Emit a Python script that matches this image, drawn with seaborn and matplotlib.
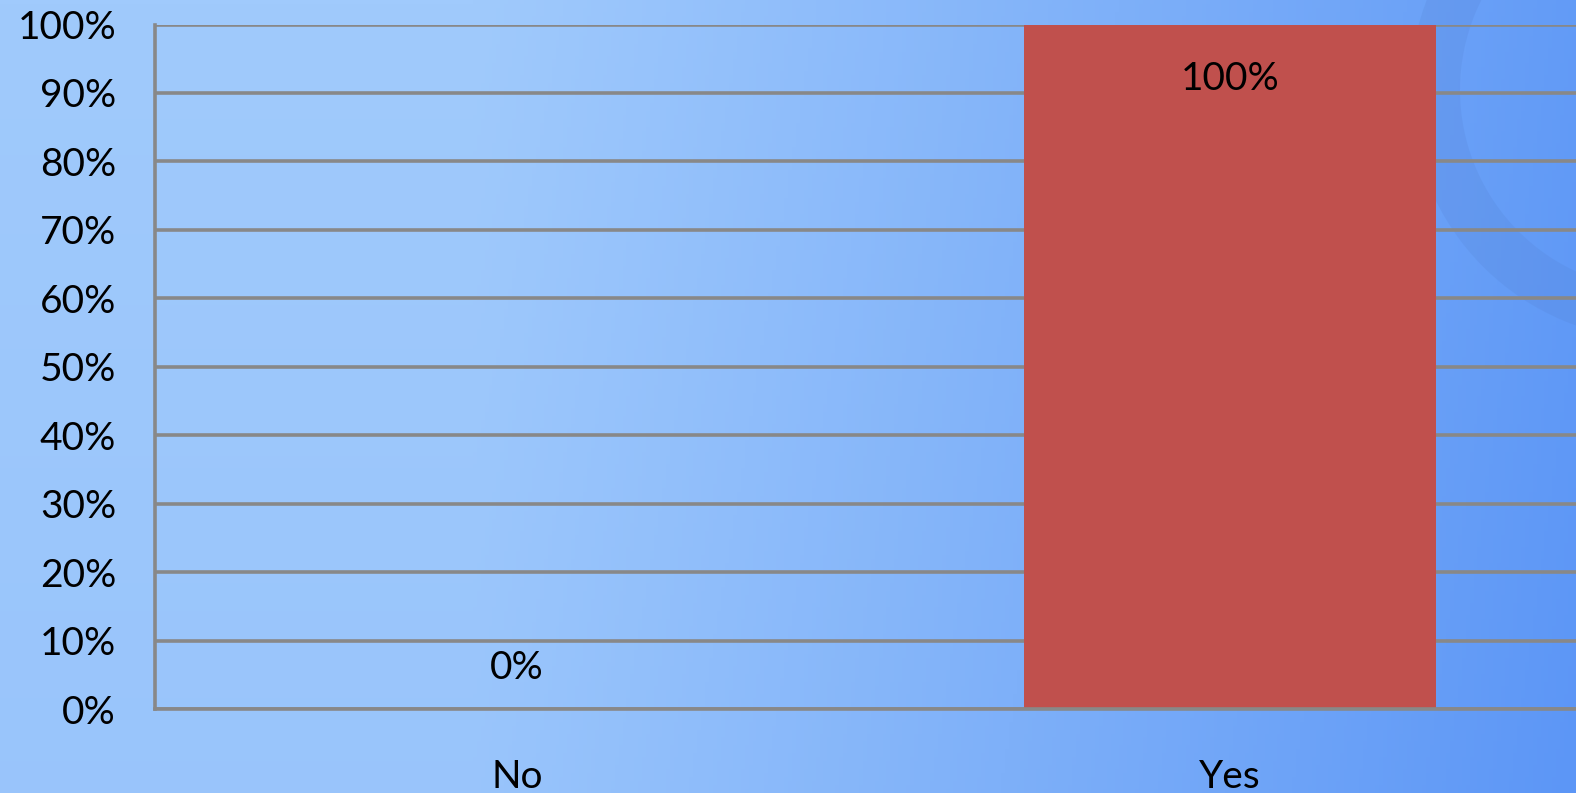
import numpy as np
import pandas as pd
import matplotlib
matplotlib.use("Agg")
import matplotlib.pyplot as plt
from matplotlib.patches import Wedge
import seaborn as sns

categories = ["No", "Yes"]
values = [0.0, 1.0]
value_labels = ["0%", "100%"]
yticks = [0, 0.1, 0.2, 0.3, 0.4, 0.5, 0.6, 0.7, 0.8, 0.9, 1.0]
ytick_labels = ["0%", "10%", "20%", "30%", "40%", "50%", "60%", "70%", "80%", "90%", "100%"]

sns.set_theme(style="white")
plt.rcParams['font.family'] = ['Lato', 'DejaVu Sans']

FW, FH = 1576, 793
fig = plt.figure(figsize=(FW / 100, FH / 100), dpi=100)

# background gradient
bg = fig.add_axes([0, 0, 1, 1], zorder=-10)
W, H = 400, 200
xs = np.linspace(0, 1, W)
ys = np.linspace(0, 1, H)
X, Y = np.meshgrid(xs, ys)
left = np.array([160, 202, 252]) / 255
right = np.array([92, 150, 246]) / 255
t = np.clip((X - 0.3) / 0.7, 0, 1) ** 1.1 * 0.9 + Y * 0.1
t = np.clip(t, 0, 1)
img = left[None, None, :] * (1 - t[..., None]) + right[None, None, :] * t[..., None]
bg.imshow(img, extent=[0, FW, 0, FH], aspect='auto', origin='upper')
# faint ring at the top right
bg.add_patch(Wedge((1660, FH - 90), 250, 0, 360, width=50,
                   facecolor=(0.33, 0.50, 0.82), alpha=0.2, lw=0))
bg.set_xlim(0, FW); bg.set_ylim(0, FH)
bg.axis('off')

ax = fig.add_axes([155 / FW, 1 - 709 / FH, 1 - 155 / FW, (709 - 24.5) / FH])
ax.patch.set_alpha(0)
df = pd.DataFrame({"cat": categories, "val": values})
sns.barplot(data=df, x="cat", y="val", color="#C0504D", width=0.578,
            saturation=1, ax=ax, zorder=3, linewidth=0, edgecolor="none")
ax.set_ylim(0, 1.0)
ax.set_xlim(-0.5077, 1.4853)
ax.set_yticks(yticks)
ax.set_yticklabels(ytick_labels)
ax.yaxis.grid(True, color="#888888", lw=2.6, zorder=1)
ax.set_axisbelow(True)
for s in ["top", "right"]:
    ax.spines[s].set_visible(False)
for s in ["left", "bottom"]:
    ax.spines[s].set_color("#888888")
    ax.spines[s].set_linewidth(2.6)
    ax.spines[s].set_zorder(4)
ax.set_xlabel("")
ax.set_ylabel("")
ax.tick_params(axis='y', labelsize=28, colors='black', length=0, pad=28)
ax.tick_params(axis='x', labelsize=28, colors='black', length=0, pad=36)
for i, (v, lab) in enumerate(zip(values, value_labels)):
    y = v - 0.08 if v > 0.5 else v + 0.06
    ax.text(i, y, lab, ha='center', va='center', fontsize=28, color='black', zorder=5)

fig.savefig("out.png", dpi=100)
